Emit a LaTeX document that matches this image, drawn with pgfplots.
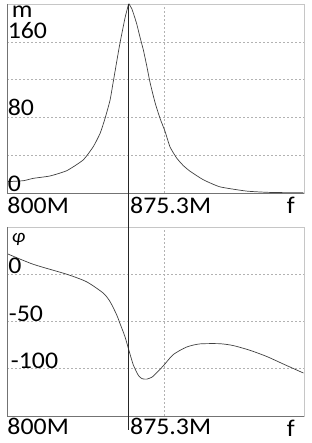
\documentclass[border=0pt]{standalone}
\usepackage{pgfplots}
\pgfplotsset{compat=1.18}
\usepackage{fontspec}
\setmainfont{Carlito}[FakeStretch=1.08]
\begin{document}
\begin{tikzpicture}[x=1bp,y=1bp]
\useasboundingbox (0,0) rectangle (311,443);
\pgfplotsset{
 myax/.style={
  scale only axis, width=296.7bp, height=189bp,
  xmin=800, xmax=983.6,
  axis line style={draw=gray!45, line width=0.9bp},
  tick style={draw=none},
  xtick={897.2}, xticklabels={},
  yticklabels={},
  grid=major,
  major grid style={gray!60, dash pattern=on 2bp off 2bp, line width=0.5bp},
  clip=false,
  anchor=south west,
 },
}
\tikzset{lbl/.style={font=\fontsize{24}{24}\selectfont, inner sep=0pt, text=black}}
% ---------- top panel: magnitude ----------
\begin{axis}[myax, at={(7.3bp,250bp)}, ymin=0, ymax=200, ytick={40,80,120,160}]
\addplot[black!75, line width=0.7bp, smooth, tension=0.3] coordinates {
(800,12) (809.9,13) (816.1,15.5) (826.4,18) (836.8,23.6) (847.0,35) (853.2,49)
(857.4,63) (860.5,79) (863.6,98.4) (865.6,118) (867.8,140) (869.7,158.4) (872.8,184.9)
(874.9,199) (875.3,200) (877.0,195.1) (878.4,188.2) (880.1,178.8) (882.1,165)
(884.2,151.3) (886.3,134.4) (888.4,116.4) (891.5,95.2) (894.5,79) (897.6,65.2)
(900.7,48.7) (904.8,37) (908.9,29) (913.1,23) (921.3,14) (931.6,6.5) (948.1,2)
(962.6,0.6) (983.2,0.2)};
\draw[gray!90!black, line width=0.9bp] (rel axis cs:0,1) -- (rel axis cs:0,0) -- (rel axis cs:1,0);
\draw[black!85, line width=1bp] (axis cs:875.3,200) -- ([yshift=-34bp]axis cs:875.3,0);
\node[lbl, anchor=north west, xshift=4.4bp, yshift=-2bp] at (rel axis cs:0,1) {m};
\node[lbl, anchor=south west, xshift=0.3bp, yshift=3bp] at (axis cs:800,160) {160};
\node[lbl, anchor=south west, xshift=0.3bp, yshift=2bp] at (axis cs:800,80) {80};
\node[lbl, anchor=south west, xshift=0.3bp, yshift=1.3bp] at (axis cs:800,0) {0};
\node[lbl, anchor=base west, yshift=-20.3bp] at (axis cs:800,0) {800M};
\node[lbl, anchor=base west, xshift=1bp, yshift=-20.3bp] at (axis cs:875.3,0) {875.3M};
\node[lbl, anchor=base east, xshift=-9bp, yshift=-21bp] at (axis cs:983.6,0) {f};
\end{axis}
% ---------- bottom panel: phase ----------
\begin{axis}[myax, at={(7.3bp,27bp)}, ymin=-150, ymax=50, ytick={-100,-50,0}]
\addplot[black!75, line width=0.7bp, smooth, tension=0.4] coordinates {
(800,21.7) (816.1,10.5) (836.8,0) (849.1,-8) (859.4,-20) (863.6,-29) (867.7,-43)
(869.7,-52) (872.8,-66) (875.5,-82) (878.0,-96) (881.1,-107) (883.4,-110.5)
(886.3,-111) (889.4,-109) (891.4,-106) (896.5,-97) (902.7,-85) (911.0,-77)
(919.2,-73.7) (931.6,-73.5) (939.9,-75.5) (950.2,-80.5) (960.5,-87) (970.8,-95)
(983.2,-104.5)};
\draw[gray!90!black, line width=0.9bp] (rel axis cs:0,1) -- (rel axis cs:0,0) -- (rel axis cs:1,0);
\draw[black!85, line width=1bp] (axis cs:875.3,50) -- ([yshift=-14bp]axis cs:875.3,-150);
\node[lbl, anchor=north west, xshift=4.4bp, yshift=-6bp, font=\fontsize{19}{19}\selectfont\itshape] at (rel axis cs:0,1) {φ};
\node[lbl, anchor=south west, xshift=1bp, yshift=0bp] at (axis cs:800,0) {0};
\node[lbl, anchor=south west, xshift=1.5bp, yshift=0bp] at (axis cs:800,-50) {-50};
\node[lbl, anchor=south west, xshift=3.5bp, yshift=0bp] at (axis cs:800,-100) {-100};
\node[lbl, anchor=base west, yshift=-19bp] at (axis cs:800,-150) {800M};
\node[lbl, anchor=base west, xshift=1bp, yshift=-19bp] at (axis cs:875.3,-150) {875.3M};
\node[lbl, anchor=base east, xshift=-9bp, yshift=-21bp] at (axis cs:983.6,-150) {f};
\end{axis}
\end{tikzpicture}
\end{document}
